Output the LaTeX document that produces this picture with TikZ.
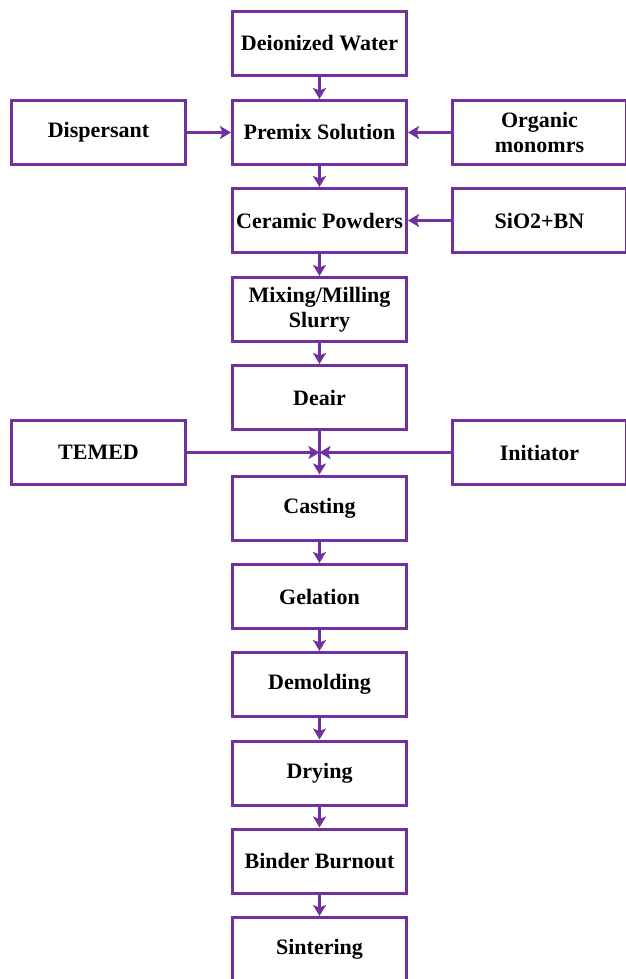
\documentclass[tikz,border=0pt]{standalone}
\usepackage{fontspec}
\setmainfont{Liberation Serif}
\usetikzlibrary{arrows.meta}
\definecolor{pur}{RGB}{112,48,160}
\begin{document}
\begin{tikzpicture}[x=1pt,y=-1pt,
  box/.style={draw=pur,line width=3pt,minimum width=174pt,minimum height=64pt,
    align=center,inner sep=0pt,font=\fontsize{22}{25}\selectfont\bfseries,text=black},
  conn/.style={draw=pur,line width=3pt,-{Stealth[length=11pt,width=13pt,inset=2.5pt]}}]
\useasboundingbox (0,0) rectangle (625,979);
\node[box] (dw) at (319.5,43.5) {Deionized Water};
\node[box] (pm) at (319.5,132.5) {Premix Solution};
\node[box] (cp) at (319.5,220.5) {Ceramic Powders};
\node[box] (mx) at (319.5,309.5) {Mixing/Milling\\Slurry};
\node[box] (de) at (319.5,397.5) {Deair};
\node[box] (ca) at (319.5,508) {Casting};
\node[box] (ge) at (319.5,596.5) {Gelation};
\node[box] (dm) at (319.5,684.5) {Demolding};
\node[box] (dr) at (319.5,773) {Drying};
\node[box] (bb) at (319.5,861) {Binder Burnout};
\node[box] (si) at (319.5,949.5) {Sintering};
\node[box] (dp) at (98.5,132.5) {Dispersant};
\node[box] (om) at (539.5,132.5) {Organic\\monomrs};
\node[box] (sb) at (539.5,220.5) {SiO2+BN};
\node[box] (te) at (98.5,452.5) {TEMED};
\node[box] (in) at (539.5,452.5) {Initiator};
\coordinate (j) at (319.5,452.5);
\draw[conn] (dw) -- (pm);
\draw[conn] (pm) -- (cp);
\draw[conn] (cp) -- (mx);
\draw[conn] (mx) -- (de);
\draw[conn] (de) -- (ca);
\draw[conn] (ca) -- (ge);
\draw[conn] (ge) -- (dm);
\draw[conn] (dm) -- (dr);
\draw[conn] (dr) -- (bb);
\draw[conn] (bb) -- (si);
\draw[conn] (dp) -- (pm);
\draw[conn] (om) -- (pm);
\draw[conn] (sb) -- (cp);
\draw[conn] (te) -- (j);
\draw[conn] (in) -- (j);
\end{tikzpicture}
\end{document}
